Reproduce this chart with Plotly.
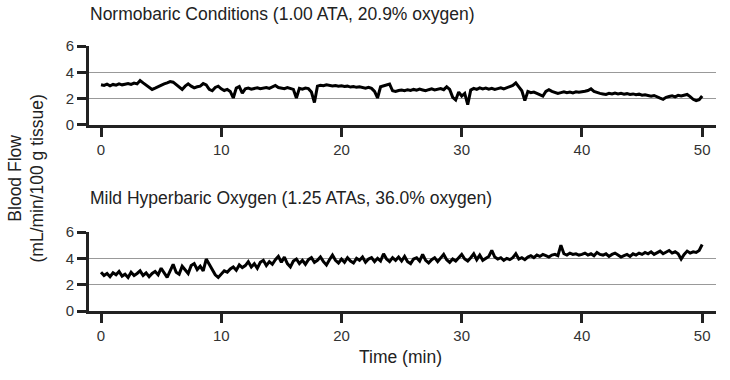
import plotly.graph_objects as go

# Time axis (minutes), sampled every 0.25 min
time_min = [i * 0.25 for i in range(201)]

# Normobaric Conditions (1.00 ATA, 20.9% oxygen) - blood flow
normobaric_flow = [
    3.05, 3.00, 3.10, 2.98, 3.08, 3.02, 3.12, 3.05, 3.10, 3.15, 3.08, 3.18, 3.12, 3.38, 3.20, 3.05, 2.85, 2.70, 2.80, 2.92,
    3.00, 3.12, 3.20, 3.30, 3.25, 3.05, 2.85, 2.70, 2.95, 3.12, 2.95, 2.82, 2.90, 2.95, 3.15, 3.05, 2.70, 2.60, 2.85, 2.95,
    2.75, 2.62, 2.70, 2.55, 2.05, 2.80, 2.92, 2.42, 2.75, 2.80, 2.72, 2.78, 2.82, 2.75, 2.80, 2.85, 2.78, 2.88, 3.00, 2.85,
    2.80, 2.76, 2.84, 2.78, 2.70, 2.05, 2.78, 2.72, 2.80, 2.76, 2.50, 1.70, 2.95, 3.02, 2.98, 3.05, 3.02, 2.96, 3.00, 2.94,
    2.98, 2.92, 2.95, 2.88, 2.92, 2.86, 2.90, 2.84, 2.80, 2.86, 2.78, 2.55, 2.05, 2.90, 2.95, 3.05, 3.10, 2.60, 2.55, 2.62,
    2.65, 2.60, 2.68, 2.62, 2.70, 2.64, 2.72, 2.66, 2.60, 2.68, 2.74, 2.66, 2.70, 2.76, 2.68, 2.90, 2.70, 2.10, 1.90, 2.50,
    2.20, 2.40, 1.55, 2.65, 2.78, 2.70, 2.82, 2.74, 2.80, 2.72, 2.78, 2.70, 2.76, 2.82, 2.74, 2.86, 2.92, 3.00, 3.20, 2.90,
    2.60, 1.85, 2.55, 2.45, 2.50, 2.40, 2.30, 2.20, 2.55, 2.68, 2.55, 2.48, 2.40, 2.46, 2.52, 2.45, 2.50, 2.44, 2.52, 2.48,
    2.50, 2.56, 2.62, 2.74, 2.55, 2.45, 2.40, 2.36, 2.32, 2.40, 2.35, 2.42, 2.36, 2.40, 2.34, 2.38, 2.32, 2.36, 2.30, 2.34,
    2.26, 2.30, 2.22, 2.18, 2.24, 2.12, 2.04, 1.95, 2.10, 2.16, 2.22, 2.14, 2.25, 2.20, 2.28, 2.32, 2.15, 1.95, 1.85, 1.92,
    2.20,
]

# Mild Hyperbaric Oxygen (1.25 ATAs, 36.0% oxygen) - blood flow
hyperbaric_flow = [
    2.95, 2.70, 2.85, 2.60, 2.90, 2.75, 3.00, 2.65, 2.80, 2.55, 2.95, 2.70, 2.85, 3.05, 2.70, 2.90, 2.60, 2.85, 3.00, 2.75,
    3.25, 2.90, 2.55, 3.05, 3.55, 2.95, 2.80, 3.40, 3.15, 2.85, 3.45, 3.60, 3.15, 3.40, 3.05, 3.95, 3.55, 3.10, 2.75, 2.55,
    2.80, 3.05, 2.95, 3.20, 3.35, 3.10, 3.50, 3.30, 3.45, 3.75, 3.35, 3.60, 3.25, 3.70, 3.85, 3.45, 3.75, 3.55, 3.90, 4.15,
    3.70, 4.10, 3.60, 3.35, 3.80, 3.95, 3.60, 3.85, 3.55, 3.90, 4.05, 3.70, 3.85, 4.10, 3.75, 3.50, 3.90, 4.25, 3.85, 3.65,
    3.95, 3.70, 4.05, 3.80, 3.65, 4.00, 3.85, 4.10, 3.70, 3.95, 4.05, 3.75, 4.00, 3.80, 4.35, 3.95, 3.75, 4.05, 3.85, 4.10,
    3.80, 4.15, 3.75, 3.60, 3.95, 4.05, 3.80, 4.30, 3.85, 3.65, 3.90, 4.05, 3.75, 4.00, 4.30, 3.90, 3.70, 3.95, 3.80, 4.05,
    4.30, 3.95, 3.80, 4.05, 4.35, 3.90, 4.25, 3.85, 4.00, 4.15, 4.60, 4.10, 3.95, 4.05, 3.85, 4.00, 3.90, 4.05, 4.35, 3.95,
    4.05, 3.90, 4.10, 4.20, 4.05, 4.25, 4.15, 4.30, 4.20, 4.10, 4.25, 4.30, 4.20, 5.00, 4.35, 4.25, 4.40, 4.30, 4.35, 4.25,
    4.30, 4.40, 4.25, 4.35, 4.20, 4.45, 4.30, 4.25, 4.35, 4.15, 4.30, 4.40, 4.25, 4.10, 4.20, 4.30, 4.15, 4.35, 4.25, 4.40,
    4.30, 4.45, 4.35, 4.50, 4.30, 4.40, 4.55, 4.35, 4.45, 4.60, 4.40, 4.50, 4.35, 3.95, 4.30, 4.55, 4.40, 4.50, 4.45, 4.60,
    5.05,
]

panel_titles = [
    "Normobaric Conditions (1.00 ATA, 20.9% oxygen)",
    "Mild Hyperbaric Oxygen (1.25 ATAs, 36.0% oxygen)",
]
x_ticks = [0, 10, 20, 30, 40, 50]
y_ticks = [0, 2, 4, 6]

FONT = "Liberation Sans, Arial, sans-serif"
INK = "#222222"

fig = go.Figure()
fig.add_trace(go.Scatter(x=time_min, y=normobaric_flow, mode="lines",
                         line=dict(color="#000000", width=3), xaxis="x", yaxis="y",
                         showlegend=False, hoverinfo="skip"))
fig.add_trace(go.Scatter(x=time_min, y=hyperbaric_flow, mode="lines",
                         line=dict(color="#000000", width=3), xaxis="x2", yaxis="y2",
                         showlegend=False, hoverinfo="skip"))

xcommon = dict(range=[-1, 51.15], tickvals=x_ticks, showgrid=False, zeroline=False,
               showline=True, linecolor=INK, linewidth=3, ticks="outside", ticklen=9,
               tickwidth=3, tickcolor=INK, automargin=False,
               tickfont=dict(family=FONT, size=15, color="#333333"))
ycommon = dict(range=[0, 6], tickvals=y_ticks, showgrid=True, gridcolor="#999999", gridwidth=1,
               zeroline=False, showline=True, linecolor=INK, linewidth=3, ticks="outside",
               ticklen=9, tickwidth=3, tickcolor=INK, automargin=False,
               tickfont=dict(family=FONT, size=15, color="#333333"))

fig.update_layout(
    width=730, height=380,
    margin=dict(l=89, r=14, t=46, b=69, autoexpand=False),
    paper_bgcolor="white", plot_bgcolor="white",
    xaxis=dict(domain=[0, 1], anchor="y", **xcommon),
    yaxis=dict(domain=[0.702, 1], anchor="x", **ycommon),
    xaxis2=dict(domain=[0, 1], anchor="y2", **xcommon),
    yaxis2=dict(domain=[0, 0.298], anchor="x2", **ycommon),
    font=dict(family=FONT, color=INK),
)

fig.add_annotation(text=panel_titles[0], xref="paper", yref="paper", x=-0.002, y=1.0,
                   xanchor="left", yanchor="middle", yshift=32, showarrow=False,
                   font=dict(family=FONT, size=17.5, color=INK))
fig.add_annotation(text=panel_titles[1], xref="paper", yref="paper", x=-0.002, y=0.298,
                   xanchor="left", yanchor="middle", yshift=34, showarrow=False,
                   font=dict(family=FONT, size=17.5, color=INK))
fig.add_annotation(text="Blood Flow<br>(mL/min/100 g tissue)", xref="paper", yref="paper",
                   x=-63 / 627, y=0.5, xanchor="center", yanchor="middle", textangle=-90,
                   showarrow=False, font=dict(family=FONT, size=17.5, color=INK))
fig.add_annotation(text="Time (min)", xref="paper", yref="paper", x=0.497, y=0,
                   yshift=-46, xanchor="center", yanchor="middle", showarrow=False,
                   font=dict(family=FONT, size=17.5, color=INK))

fig.write_html("out.html", config={"displayModeBar": False},
               post_script="document.body.style.margin='0';document.body.style.overflow='hidden';")
